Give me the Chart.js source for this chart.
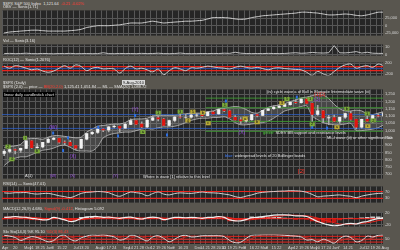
<!DOCTYPE html>
<html>
<head>
<meta charset="utf-8">
<script src="https://cdn.jsdelivr.net/npm/chart.js@4.4.1/dist/chart.umd.min.js"></script>
<style>
  body { margin: 0; width: 400px; height: 250px; overflow: hidden; position: relative; background: #59564f; font-family: "Liberation Sans", Arial, sans-serif; }
  canvas { position: absolute; left: 0; }
  .t { position: absolute; font-size: 4px; line-height: 5px; color: #e2e2e2; white-space: nowrap; }
  .r { color: #ff3b30; }
  .g { color: #4cc83c; }
  .b { color: #3a7bff; }
  .p { color: #9a4fe0; }
  .box { background: #d8d8d8; color: #222; padding: 0 1px; }
  .blk { background: #000; padding: 0 1px; }
</style>
</head>
<body>
<canvas id="obv"></canvas>
<canvas id="vol"></canvas>
<canvas id="roc"></canvas>
<canvas id="price"></canvas>
<canvas id="rsi"></canvas>
<canvas id="macd"></canvas>
<canvas id="sto"></canvas>

<div class="t" style="top:0.5px;left:3px">$SPX S&amp;P 500 Index&nbsp; 1,121.64&nbsp; <span class="r">-0.21 -0.02%</span></div>
<div class="t" style="top:3.5px;left:3px">OBV — Sonic(1.71)</div>
<div class="t" style="top:38px;left:3px">Vol — Sonic(3.16)</div>
<div class="t" style="top:56.5px;left:3px">ROC(12) — Sonic(1.2076)</div>
<div class="t" style="top:79.5px;left:3px">$SPX (Daily)</div>
<div class="t box" style="top:79.5px;left:122px">9-Aug-2010</div>
<div class="t" style="top:84px;left:3px">$SPX (2.0) — price — <span class="r">BB(20,2.0)</span> 1,125.41 1,051.84 — ML — SMA(20) 1,088.72</div>
<div class="t blk" style="top:91.5px;left:3px">linear daily candlestick chart</div>
<div class="t" style="top:88.5px;left:267px">(iv) cycle wave a of Bull in Elongate Intermediate wave (iii)</div>
<div class="t" style="top:130px;left:263px"><span class="g">green:</span> SDEV BB support and resistance levels</div>
<div class="t" style="top:135px;left:327px">ML-I wave (iii) or other significant low</div>
<div class="t" style="top:153px;left:225px"><span class="b">blue:</span> widespread levels of 20 Bollinger bands</div>
<div class="t" style="top:173px;left:25px">A(1)</div>
<div class="t p" style="top:173px;left:50px">(W)</div>
<div class="t p" style="top:173px;left:70px">(X)</div>
<div class="t p" style="top:173px;left:113px">(Y)</div>
<div class="t" style="top:173.5px;left:143px">Where is wave [1] relative to this level</div>
<div class="t r" style="top:168px;left:298px;font-size:6px;line-height:7px">[2]</div>
<div class="t" style="top:180.5px;left:3px">RSI(14) — Sonic(47.01)</div>
<div class="t" style="top:206px;left:3px">MACD(12,26,9) 4.680, <span class="r">Signal(9) -0.412</span>, Histogram 5.092</div>
<div class="t" style="top:228.5px;left:3px">Slo Sto(14,3) %K 95.10 <span class="r">%D(3) 86.43</span></div>

<script>
// weekly bars, week 0 = Mon 6 Apr 2009
const tickLabels = ["Apr","","20","","May","11","18","25","Jun","8","15","22","","Jul","13","20","","Aug","10","17",
  "24","","Sep","14","21","28","Oct","12","19","26","Nov","9","16","23","","Dec","14","21","28","2010",
  "11","19","25","Feb","8","16","22","Mar","8","15","22","","Apr","12","19","26","May","10","17","24",
  "Jun","7","14","21","","Jul","12","19","26","Aug"];

const opens = [842.5,856.6,869.6,866.2,877.5,929.2,882.9,887.0,919.1,940.1,946.2,921.2,918.9,896.4,879.1,940.4,979.3,987.5,1010.5,1004.1,
  1026.1,1028.9,1016.4,1042.7,1068.3,1044.4,1025.2,1071.5,1087.7,1079.6,1036.2,1069.3,1093.5,1091.4,1091.5,1106.0,1106.4,1102.5,1126.5,1115.1,
  1145.0,1136.0,1091.8,1073.9,1066.2,1075.5,1109.2,1104.5,1138.7,1150.0,1159.9,1166.6,1178.1,1194.4,1192.1,1217.3,1186.7,1110.9,1135.7,1087.7,
  1089.4,1064.9,1091.6,1117.5,1076.8,1022.6,1078.0,1064.9,1102.7,1101.6];
const closes = [856.6,869.6,866.2,877.5,929.2,882.9,887.0,919.1,940.1,946.2,921.2,918.9,896.4,879.1,940.4,979.3,987.5,1010.5,1004.1,1026.1,
  1028.9,1016.4,1042.7,1068.3,1044.4,1025.2,1071.5,1087.7,1079.6,1036.2,1069.3,1093.5,1091.4,1091.5,1106.0,1106.4,1102.5,1126.5,1115.1,1145.0,
  1136.0,1091.8,1073.9,1066.2,1075.5,1109.2,1104.5,1138.7,1150.0,1159.9,1166.6,1178.1,1194.4,1192.1,1217.3,1186.7,1110.9,1135.7,1087.7,1089.4,
  1064.9,1091.6,1117.5,1076.8,1022.6,1078.0,1064.9,1102.7,1101.6,1121.6];
const highs = [869,876,875,880,930,931,910,920,951,956,947,930,931,898,941,980,993,1018,1012,1027,
  1040,1031,1049,1080,1071,1060,1076,1101,1101,1085,1072,1097,1113,1112,1119,1116,1117,1130,1133,1148,
  1150,1141,1103,1090,1080,1112,1113,1139,1151,1170,1181,1181,1198,1213,1218,1220,1190,1174,1139,1105,
  1106,1093,1121,1132,1079,1079,1100,1104,1115,1130];
const lows = [828,846,839,850,875,878,879,880,915,935,914,903,895,870,875,935,972,981,992,991,
  1019,991,1016,1041,1040,1020,1020,1068,1066,1034,1030,1059,1085,1084,1085,1094,1095,1100,1114,1112,
  1130,1090,1071,1045,1057,1070,1094,1104,1137,1145,1158,1166,1175,1186,1188,1183,1065,1104,1055,1040,
  1061,1050,1084,1071,1011,1016,1063,1056,1094,1099];
const bbUpper = [885,890,895,905,940,945,945,940,955,965,965,960,955,950,955,990,1010,1030,1035,1040,
  1045,1045,1055,1075,1080,1080,1085,1100,1105,1105,1105,1105,1110,1115,1120,1120,1120,1130,1135,1150,
  1155,1160,1165,1160,1145,1125,1120,1140,1160,1170,1175,1185,1200,1210,1225,1230,1240,1250,1245,1220,
  1180,1150,1135,1135,1140,1135,1115,1110,1120,1130];
const bbLower = [760,790,810,820,820,835,850,865,870,880,895,900,885,865,860,860,860,890,950,970,
  980,985,990,990,1000,1010,1015,1010,1020,1025,1025,1030,1040,1055,1070,1080,1085,1085,1090,1090,
  1095,1080,1055,1040,1040,1045,1050,1055,1065,1085,1110,1135,1145,1155,1165,1170,1100,1075,1055,1045,
  1040,1040,1045,1050,1000,1000,1005,1010,1020,1040];
const blueLevels = [1110, 1015];
const greenLevels = [1223, 1157, 1063, 995];
const greenFrom = 37;
const priceTicks = [700,750,800,850,900,950,1000,1050,1100,1150,1200,1250];

const waveX = [1.1,1.8,4.2,6.4,9.3,9.3,11.1,12.0,12.9,17.5,21.1,24.2,24.2,25.6,28.4,30.0,32.4,33.8,34.7,36.5,
  37.5,40.5,40.7,43.6,44.2,46.4,50.9,51.8,53.6,56.0,57.8,57.3,56.4,56.4,59.1,60.9,62.7,66.4,66.5,67.5];
const waveY = [890,803,950,857,1017,983,863,950,823,1023,963,1143,1103,990,1123,970,1130,1070,1130,1123,
  1050,1177,1203,983,1083,1057,1190,1217,1230,1217,1250,1210,1023,1043,1017,1023,1150,1117,1030,1070];
const waveText = ['2','4','i','b','(W)','','','','(X)','','','(Y)','','a','1','','3','4','5','b',
  'c','1','','(X)','a','b','3','5','','1','[1][2]','(3)','','2','','a','b','1','c','2'];
const waveKind = ['g','g','g','g','p','b','b','b','p','b','b','p','b','g','g','b','g','y','y','y',
  'y','g','b','p','y','y','y','g','b','g','r','p','b','g','b','y','g','g','y','g'];

const obv = [-23500,-20600,-19100,-17600,-16200,-14700,-14700,-16200,-17600,-17600,-17600,-17600,-16200,-14700,-11800,-5900,-2900,0,0,0,
  1500,2900,5900,8800,8800,8800,11800,14700,11800,8800,10300,11800,13200,14700,14700,16200,17600,22100,26500,26500,
  26500,25000,22100,20600,22100,26500,29400,32400,33800,35300,36800,38200,39700,41200,44100,44100,42600,41200,38200,35300,
  35300,36800,38200,36800,33800,32400,35300,39700,44100,44100];
const vol = [1.5,1.8,1.4,1.6,2.0,1.5,1.4,1.7,1.5,1.3,1.6,1.5,1.8,1.4,1.5,1.6,1.4,1.5,2.6,1.5,
  1.4,1.7,1.5,1.6,1.4,1.8,1.5,1.6,2.0,1.5,1.4,1.6,2.2,1.5,1.4,1.5,1.6,1.5,1.7,1.6,
  2.0,1.8,3.2,2.0,1.6,1.5,1.6,1.5,1.8,1.6,1.5,1.7,2.2,2.6,1.9,2.2,3.0,2.4,2.2,2.6,
  11.5,2.5,2.4,3.0,4.0,2.2,3.2,2.0,1.8,1.7];
const roc = [92,15,108,77,15,-46,-15,-92,-138,-92,15,108,15,138,77,-77,15,46,-15,0,
  -15,-169,0,92,-15,15,-46,-123,-15,-231,-77,31,-15,-77,31,15,46,92,62,31,
  15,-15,46,92,46,15,46,0,-46,15,31,0,-15,-31,-46,-138,-250,-108,-200,-255,
  -108,46,138,169,15,77,108,46,169,108];
const rocBands = [75, -75];
const rsi = [62,60,63,63,64,58,55,58,59,53,45,40,34,45,59,65,67,70,68,63,
  50,42,55,67,63,58,45,58,67,55,50,58,62,60,59,63,67,63,62,60,
  55,50,40,35,43,50,60,65,68,70,72,73,75,74,72,65,53,39,43,45,
  48,50,45,42,34,43,50,55,59,60];
const rsiBands = [70, 30];
const macd = [4,5,7,5,4,1,-1,-4,-3,4,1,-4,-9,-7,1,5,7,7,4,5,
  3,1,4,5,1,-1,3,5,3,-3,0,4,4,3,4,3,1,4,4,7,
  4,-4,-7,-7,-3,3,4,7,9,11,12,12,11,9,9,7,-1,-9,-15,-20,
  -23,-21,-17,-15,-17,-12,-9,-4,0,1];
const signal = [5,5,5,5,5,4,3,1,0,0,1,0,-2,-4,-3,-1,1,3,4,5,
  4,3,3,3,3,2,2,2,3,2,1,1,2,2,3,3,3,3,3,4,
  5,3,0,-3,-4,-3,-1,1,4,6,8,10,11,11,10,9,6,2,-3,-8,
  -13,-17,-18,-17,-16,-15,-13,-10,-6,-3];
const hist = [-1,0,2,0,-1,-3,-4,-5,-3,4,0,-4,-7,-3,4,6,6,4,0,0,
  -1,-2,1,2,-2,-3,1,3,0,-5,-1,3,2,1,1,0,-2,1,1,3,
  -1,-7,-7,-4,1,6,5,6,5,5,4,2,0,-2,-1,-2,-7,-11,-12,-12,
  -10,-4,1,2,-1,3,4,6,6,4];
const stoK = [91,82,68,36,59,77,68,45,23,36,82,91,50,32,64,82,95,91,95,86,
  73,41,55,91,82,55,32,73,86,59,23,50,82,91,73,77,86,86,86,86,
  77,36,14,18,59,91,95,97,97,97,95,91,86,82,73,41,45,23,50,32,
  9,55,82,68,23,36,82,73,91,95];
const stoD = [82,82,80,62,54,57,68,63,45,35,47,70,74,58,49,59,80,89,94,91,
  85,67,56,62,76,76,56,53,64,73,56,44,52,74,82,80,79,83,86,86,
  83,66,42,23,30,56,82,94,96,97,96,94,91,86,80,65,53,36,39,35,
  30,32,49,68,58,42,47,64,82,86];
const stoBands = [80, 50, 20];

const GRID = '#575757';
const PANEL = '#262626';
const TXT = '#d6d6d6';
const RED = '#e8231c';
const X_MAX = 69.27;
const PAD = 3;

Chart.defaults.font.family = '"Liberation Sans", Arial, sans-serif';
Chart.defaults.animation = false;

const pts = arr => arr.map((v, i) => ({ x: i + 0.4, y: v }));
const flat = (v, x0) => [{ x: x0 || 0, y: v }, { x: X_MAX, y: v }];
function line(data, color, width, extra) {
  return Object.assign({ type: 'line', data, borderColor: color, borderWidth: width || 1,
    pointRadius: 0, tension: 0.3, fill: false }, extra || {});
}

const panelBg = {
  id: 'panelBg',
  beforeDraw(chart) {
    const { ctx, chartArea: a } = chart;
    ctx.save();
    ctx.fillStyle = PANEL;
    ctx.fillRect(a.left, a.top, a.right - a.left, a.bottom - a.top);
    ctx.restore();
  }
};

const BOX = { g: '#79a83a', y: '#b9a936', b: '#2f6fe0' };
const waveLabels = {
  id: 'waveLabels',
  afterDatasetsDraw(chart) {
    const { ctx, scales: { x, y } } = chart;
    ctx.save();
    ctx.textAlign = 'center';
    ctx.textBaseline = 'middle';
    waveText.forEach((t, i) => {
      const px = x.getPixelForValue(waveX[i]);
      const py = y.getPixelForValue(waveY[i]);
      const k = waveKind[i];
      if (k === 'p' || k === 'r') {
        ctx.font = '5px "Liberation Sans"';
        ctx.fillStyle = k === 'p' ? '#9a4fe0' : RED;
        ctx.fillText(t, px, py);
      } else if (k === 'b') {
        ctx.fillStyle = BOX.b;
        ctx.fillRect(px - 1, py - 1.5, 2, 3);
      } else {
        ctx.font = '4px "Liberation Sans"';
        const w = ctx.measureText(t).width + 3;
        ctx.fillStyle = BOX[k];
        ctx.fillRect(px - w / 2, py - 2, w, 4);
        ctx.fillStyle = '#111';
        ctx.fillText(t, px, py);
      }
    });
    ctx.restore();
  }
};

function xAxis(showLabels) {
  return {
    type: 'linear', min: 0, max: X_MAX, offset: false,
    grid: { color: GRID, drawTicks: false, offset: false },
    border: { display: false },
    afterBuildTicks: ax => { ax.ticks = tickLabels.map((t, i) => ({ value: i })); },
    ticks: showLabels
      ? { display: true, autoSkip: false, maxRotation: 0, align: 'start', padding: 1,
          font: { size: 4 }, color: TXT, callback: v => tickLabels[v] }
      : { display: false },
    afterFit: s => { s.height = showLabels ? 6 : 0; }
  };
}

function yAxis(min, max, ticks) {
  return {
    position: 'right', min, max,
    grid: { color: GRID, drawTicks: false },
    border: { display: false },
    afterBuildTicks: ax => { ax.ticks = ticks.map(v => ({ value: v })); },
    ticks: { color: TXT, font: { size: 4 }, padding: 2, callback: v => v.toLocaleString('en-US') },
    afterFit: s => { s.width = 17; }
  };
}

function panel(id, top, bottom, y, datasets, opts) {
  opts = opts || {};
  const last = !!opts.last;
  const c = document.getElementById(id);
  c.width = 400;
  c.height = last ? 250 - (top - PAD) : bottom - top + 2 * PAD;
  c.style.top = (top - PAD) + 'px';
  return new Chart(c, {
    type: 'line',
    data: { datasets },
    options: {
      responsive: false,
      layout: { padding: { left: 2, right: 0, top: PAD, bottom: last ? 0 : PAD } },
      plugins: { legend: { display: false }, tooltip: { enabled: false } },
      scales: { x: xAxis(last), y }
    },
    plugins: [panelBg].concat(opts.plugins || [])
  });
}

// OBV
panel('obv', 9, 37, yAxis(-32350, 50000, [-25000, 0, 25000]), [
  line(pts(obv), '#cfcfcf', 1, { tension: 0.2 })
]);

// volume-like oscillator
panel('vol', 43, 57, yAxis(-1, 13, [0, 5, 10]), [
  line(pts(vol), '#bdbdbd', 1, { tension: 0 })
]);

// ROC
panel('roc', 61, 77, yAxis(-262, 231, [-200, 0, 200]), [
  line(pts(roc), '#c8c8c8', 1, { tension: 0.35 }),
  ...rocBands.map(v => line(flat(v), RED, 1.2)),
  line(flat(0), '#2d4fa8', 1)
]);

// price panel
const candleColors = closes.map((c, i) => c >= opens[i] ? '#f2f2f2' : '#e3150f');
panel('price', 88, 180, yAxis(670, 1283, priceTicks), [
  { type: 'bar', data: closes.map((c, i) => ({ x: i + 0.4, y: [opens[i], c] })),
    backgroundColor: candleColors, barThickness: 2.5, grouped: false, order: 0 },
  { type: 'bar', data: highs.map((h, i) => ({ x: i + 0.4, y: [lows[i], h] })),
    backgroundColor: '#a8a8a8', barThickness: 1, grouped: false, order: 1 },
  ...blueLevels.map(v => line(flat(v), 'rgba(47,98,201,0.8)', 1, { order: 4 })),
  ...greenLevels.map(v => line(flat(v, greenFrom), 'rgba(63,154,50,0.9)', 1, { order: 4 })),
  line(pts(bbUpper), 'rgba(205,205,205,0.75)', 1, { fill: '+1', backgroundColor: 'rgba(150,150,150,0.3)', order: 8 }),
  line(pts(bbLower), 'rgba(205,205,205,0.75)', 1, { order: 9 })
], { plugins: [waveLabels] });

// RSI
panel('rsi', 185, 204, yAxis(5, 100, [30, 50, 70, 100]), [
  line(pts(rsi), '#cfcfcf', 1, { tension: 0.35 }),
  ...rsiBands.map(v => line(flat(v), RED, 1.2))
]);

// MACD
panel('macd', 211, 228, yAxis(-25.3, 20, [-20, 0, 20]), [
  line(pts(macd), '#f0f0f0', 1.2, { tension: 0.35, order: 0 }),
  line(pts(signal), RED, 1, { tension: 0.35, order: 1 }),
  line(flat(0), RED, 1, { order: 2 }),
  { type: 'bar', data: pts(hist), backgroundColor: hist.map(v => v >= 0 ? 'rgba(230,230,230,0.85)' : 'rgba(212,21,15,0.9)'),
    barThickness: 4, grouped: false, order: 3 }
]);

// slow stochastic
panel('sto', 233, 244, yAxis(0, 100, [50]), [
  line(pts(stoK), '#d8d8d8', 1, { tension: 0.35, order: 0 }),
  line(pts(stoD), '#c0302a', 1, { tension: 0.35, order: 1 }),
  ...stoBands.map(v => line(flat(v), RED, 1, { order: 2 }))
], { last: true });
</script>
</body>
</html>
